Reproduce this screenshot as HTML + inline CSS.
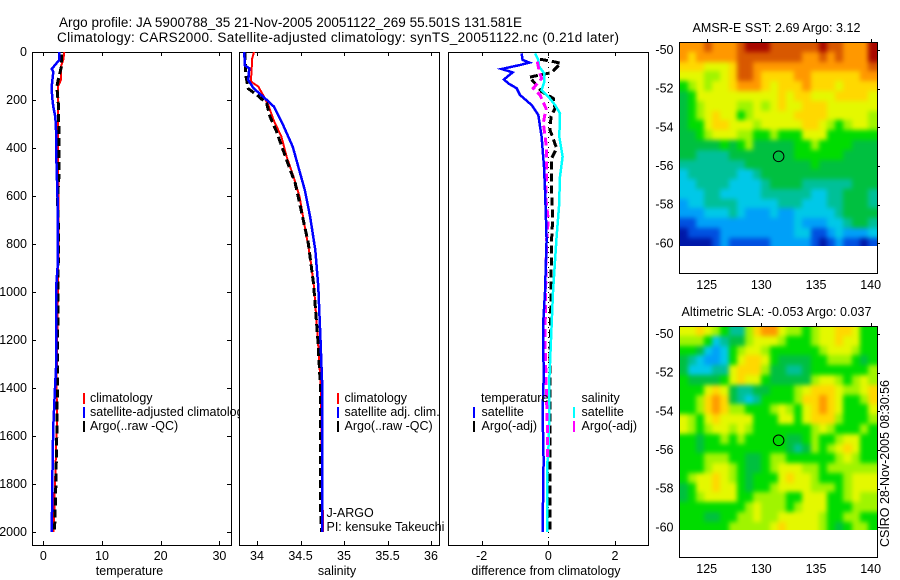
<!DOCTYPE html>
<html>
<head>
<meta charset="utf-8">
<title>Argo profile</title>
<style>
html,body{margin:0;padding:0;background:#fff;}
svg{display:block;}
text{font-family:"Liberation Sans",sans-serif;font-size:12.5px;fill:#000;}
</style>
</head>
<body>
<svg id="fig" width="900" height="580" viewBox="0 0 900 580" xmlns="http://www.w3.org/2000/svg">
<defs>
<clipPath id="legclip"><rect x="0" y="380" width="240" height="60"/></clipPath>
<clipPath id="sstclip"><rect x="679" y="42" width="199" height="204"/></clipPath>
<clipPath id="slaclip"><rect x="679" y="326" width="199" height="204"/></clipPath>
<filter id="mapsmooth" filterUnits="userSpaceOnUse" x="640" y="0" width="260" height="580" color-interpolation-filters="sRGB"><feGaussianBlur stdDeviation="2.5"/></filter>
</defs>
<rect x="0" y="0" width="900" height="580" fill="#fff"/>
<text x="59" y="27" style="font-size:13.5px" textLength="463" lengthAdjust="spacing">Argo profile: JA 5900788_35 21-Nov-2005 20051122_269 55.501S 131.581E</text>
<text x="57" y="42" style="font-size:13.5px" textLength="562" lengthAdjust="spacing">Climatology: CARS2000. Satellite-adjusted climatology: synTS_20051122.nc (0.21d later)</text>
<g id="charts"></g>
<text x="90" y="402">climatology</text>
<text x="90" y="416" clip-path="url(#legclip)">satellite-adjusted climatology</text>
<text x="90" y="430">Argo(..raw -QC)</text>
<text x="344.5" y="402">climatology</text>
<text x="344.5" y="416">satellite adj. clim.</text>
<text x="344.5" y="430">Argo(..raw -QC)</text>
<text x="326.5" y="517">J-ARGO</text>
<text x="326.5" y="531">PI: kensuke Takeuchi</text>
<text x="481" y="402">temperature</text>
<text x="481.5" y="416">satellite</text>
<text x="481.5" y="430">Argo(-adj)</text>
<text x="581.5" y="402">salinity</text>
<text x="581.5" y="416">satellite</text>
<text x="581.5" y="430">Argo(-adj)</text>
<text x="692.5" y="32" textLength="168" lengthAdjust="spacing">AMSR-E SST: 2.69 Argo: 3.12</text>
<text x="681.5" y="316" textLength="190" lengthAdjust="spacing">Altimetric SLA: -0.053 Argo: 0.037</text>
<text transform="translate(889,547) rotate(-90)" textLength="167" lengthAdjust="spacing">CSIRO 28-Nov-2005 08:30:56</text>
</svg>
<script>
// ---------- temperature profile data ----------
const tempClimDepth  = [0,33,60,117,144,400,700,978,1400,1500,1600,1800,2000];
const tempClimValues = [3.58,3.4,3.0,3.0,2.5,2.5,2.6,2.5,2.25,2.35,2.25,2.0,1.75];
const tempSatDepth   = [0,33,71,82,144,186,228,270,339,422,617,894,978,1300,1400,1560,1680,1880,2000];
const tempSatValues  = [2.73,2.73,1.43,1.7,1.43,1.5,1.7,2.05,2.2,2.2,2.43,2.43,2.2,2.2,2.0,1.7,1.6,1.5,1.45];
const tempArgoDepth  = [10,60,109,144,228,380,520,620,750,978,1400,1600,1850,2000];
const tempArgoValues = [3.1,3.1,2.6,2.3,2.6,2.65,2.65,2.4,2.6,2.5,2.4,2.3,2.1,1.9];
// ---------- salinity profile data ----------
const salClimDepth  = [0,33,60,123,144,179,221,283,353,436,519,603,728,853,978,1200,1400,2000];
const salClimValues = [33.965,33.94,33.94,33.93,34.015,34.07,34.13,34.19,34.28,34.34,34.42,34.49,34.55,34.61,34.655,34.7,34.735,34.76];
const salSatDepth   = [0,56,68,117,151,186,228,304,394,478,575,686,825,978,1200,1400,2000];
const salSatValues  = [33.854,33.86,33.91,33.90,33.96,34.07,34.195,34.30,34.41,34.475,34.55,34.61,34.67,34.705,34.73,34.75,34.75];
const salArgoDepth  = [0,95,153,179,214,269,332,450,548,672,797,964,1200,1400,1900,2000];
const salArgoValues = [33.86,33.87,33.90,34.0,34.11,34.15,34.225,34.34,34.44,34.515,34.59,34.65,34.7,34.73,34.73,34.74];
// ---------- difference panel data ----------
const diffTempSatDepth  = [6,33,44,54,71,85,114,131,151,179,221,262,353,478,575,700,783,1000,1120,1367,1500,1700,2000];
const diffTempSatValues = [-0.80,-0.77,-0.57,-0.85,-1.40,-1.07,-1.33,-1.20,-0.95,-0.85,-0.50,-0.30,-0.20,-0.13,-0.10,-0.07,-0.05,-0.10,-0.15,-0.14,-0.17,-0.14,-0.17];
const diffSalSatDepth   = [6,33,60,89,124,158,186,221,256,353,436,519,644,769,1000,1200,1367,1500,1680,1720,2000];
const diffSalSatValues  = [-0.40,-0.30,-0.28,-0.12,-0.12,-0.20,0,0.20,0.35,0.33,0.43,0.35,0.32,0.25,0.14,0.08,0.03,0.03,0,-0.04,-0.04];
const diffTempArgoDepth  = [30,40,47,86,105,137,165,193,235,269,325,401,443,575,700,783,1000,1200,1400,1700,2000];
const diffTempArgoValues = [-0.25,0.15,0.37,0.10,-0.57,-0.35,-0.20,0.15,0.20,0.08,0.05,0.25,0.10,0.10,0.13,0.10,0.08,0.06,0.05,0.05,0.05];
const diffSalArgoDepth  = [40,82,110,151,179,235,297,401,505,603,700,783,1000,1200,1400,1600,1700];
const diffSalArgoValues = [-0.33,-0.27,-0.20,-0.45,-0.25,-0.07,-0.15,-0.05,-0.05,-0.08,0,-0.05,-0.08,-0.1,-0.06,-0.02,-0.02];
// ---------- tick labels ----------
const depthTicks = [0,200,400,600,800,1000,1200,1400,1600,1800,2000];
const tempTicks = [0,10,20,30];
const salTicks = [34,34.5,35,35.5,36];
const diffTicks = [-2,0,2];
const lonTicks = [125,130,135,140];
const latTicks = [-50,-52,-54,-56,-58,-60];
const floatLon = 131.581;
const floatLat = -55.501;
// ---------- map data: colour-scale levels, north to south, west to east ----------
const sstLevels = [
[10,10,10,11,10,10,10,11,12,12,12,11,11,11,11,11,11,12,11,11,10,10,10,12],
[10,9,10,10,10,10,10,11,11,11,11,11,11,11,11,10,10,11,10,11,10,10,10,12],
[9,9,9,8,8,8,9,11,11,10,10,10,10,10,10,10,10,10,10,10,10,10,10,11],
[8,8,8,7,7,8,9,11,11,10,9,9,9,9,10,10,9,9,9,9,9,9,10,10],
[6,7,8,7,8,8,9,10,10,10,9,8,9,9,9,10,9,9,9,8,9,9,9,9],
[5,6,8,8,8,8,8,8,8,8,8,8,9,8,9,9,8,8,8,9,9,9,9,8],
[5,6,7,8,8,8,8,7,7,8,7,8,9,8,8,9,9,9,8,8,8,8,8,8],
[5,6,7,8,9,8,8,6,7,8,8,8,8,8,9,9,9,9,8,8,8,8,8,7],
[5,6,6,8,9,9,8,8,8,7,8,8,8,8,8,9,9,8,7,6,7,8,8,7],
[5,5,6,7,8,8,8,7,7,6,6,7,6,6,6,8,8,8,6,6,6,6,6,6],
[5,5,5,5,5,6,5,6,7,5,5,5,5,5,6,6,7,6,6,6,6,5,5,5],
[5,5,4,4,4,4,5,5,5,5,5,5,5,5,6,6,6,6,6,6,5,5,5,5],
[4,4,4,4,4,4,4,4,5,5,5,5,5,5,5,5,6,5,5,5,5,5,5,5],
[3,4,4,4,4,4,4,3,3,4,5,5,5,5,5,5,5,5,5,5,5,5,5,5],
[3,3,4,4,4,4,3,3,3,3,4,5,5,5,5,4,4,4,4,4,4,5,5,5],
[3,3,3,4,4,3,3,3,3,3,4,4,4,4,4,4,3,3,4,4,5,5,5,4],
[2,3,3,4,4,4,4,3,3,3,3,3,4,4,4,3,3,3,4,4,5,5,5,4],
[2,2,2,3,3,3,4,3,2,2,2,3,2,2,3,3,3,3,3,4,5,5,5,5],
[1,1,2,2,2,2,2,2,2,2,2,2,2,2,3,2,2,2,3,3,4,5,5,4],
[0,1,1,1,1,2,2,2,2,2,2,2,2,2,3,3,1,1,2,3,2,2,2,3],
[0,0,0,0,1,2,1,1,1,1,1,2,2,2,2,2,1,0,1,2,1,1,0,1]
];
const slaLevels = [
[8,8,9,8,7,6,4,4,7,9,10,10,8,7,7,6,7,8,8,9,9,8,6,6],
[7,7,7,6,3,4,5,5,7,8,8,8,7,6,6,6,7,8,8,9,8,8,6,6],
[6,6,5,3,2,3,6,7,8,8,7,6,6,6,6,6,6,7,8,8,8,7,6,6],
[5,4,3,2,2,3,6,8,9,9,8,6,5,5,5,5,6,6,7,7,7,6,5,6],
[5,3,3,3,4,4,8,9,9,9,7,5,5,4,4,5,6,6,6,6,6,6,6,7],
[6,5,5,5,5,6,8,9,8,8,6,5,5,5,5,5,7,8,8,7,6,7,8,7],
[6,6,6,8,9,8,5,4,4,5,5,6,6,6,7,8,9,9,9,8,7,7,8,9],
[6,6,7,9,10,9,5,4,3,4,6,6,6,6,7,9,9,10,9,8,6,6,7,9],
[6,6,7,9,10,9,7,7,6,6,6,7,8,7,6,8,9,10,9,8,6,6,6,8],
[8,7,6,8,9,8,8,8,8,6,6,6,8,8,6,8,9,9,9,7,6,6,6,7],
[8,7,6,7,8,8,7,8,7,6,6,6,6,6,6,6,7,8,7,6,6,6,7,6],
[6,6,5,6,6,7,6,7,6,6,6,6,6,5,5,6,7,6,6,7,8,8,6,6],
[6,6,5,6,6,6,6,6,6,6,6,6,6,5,4,5,7,6,7,8,9,8,6,6],
[6,6,6,7,7,7,6,6,5,5,6,7,7,6,6,6,6,6,6,7,8,7,6,6],
[6,6,6,7,8,8,7,6,5,5,6,7,8,8,8,7,7,6,7,7,7,7,7,7],
[6,7,8,8,9,8,7,6,5,6,6,6,8,9,8,8,7,6,6,6,7,8,8,8],
[5,6,8,8,9,8,8,6,5,6,6,7,8,8,8,8,7,7,7,6,7,8,8,8],
[5,6,7,8,8,8,8,6,6,7,7,7,7,6,6,8,8,8,6,6,7,8,7,7],
[6,6,6,6,6,6,6,6,7,8,7,7,7,6,7,8,8,8,6,6,6,7,7,7],
[6,6,6,5,5,6,6,7,7,8,7,7,8,8,8,8,8,7,6,6,7,7,6,6],
[6,6,6,6,6,6,7,7,7,7,7,8,9,8,8,8,8,7,6,5,6,7,7,6]
];
const levelColors = ['#0018a8','#0050e0','#00a0f8','#00c8e8','#00c098','#00c040','#00dc00','#a0f400','#e4f800','#ffd800','#ff9800','#d85800','#a80800'];

const NS = 'http://www.w3.org/2000/svg';
const root = document.getElementById('charts');
function el(tag, attrs, parent){
  const e = document.createElementNS(NS, tag);
  for (const k in attrs) e.setAttribute(k, attrs[k]);
  (parent || root).appendChild(e);
  return e;
}
const depthY = d => 52 + d * 0.24;
const tempX = v => 43.3 + v * 5.87;
const salX = v => 257 + (v - 34) * 87;
const diffX = v => 548.3 + v * 33.33;

function drawFrame(name, x0, y0, x1, y1){
  const r = el('rect', {x:x0+0.5, y:y0+0.5, width:x1-x0, height:y1-y0, fill:'none', stroke:'#000', 'stroke-width':1, 'shape-rendering':'crispEdges'});
  
  
}
function drawTick(x1, y1, x2, y2){
  const t = el('line', {x1:x1, y1:y1, x2:x2, y2:y2, stroke:'#000', 'stroke-width':1, 'shape-rendering':'crispEdges'});
  
  
}
function drawLabel(name, x, y, txt, anchor){
  const t = el('text', {x:x, y:y, 'text-anchor':anchor || 'middle'});
  t.textContent = txt;
  
  
}
function drawProfile(name, depths, values, xf, color, dash, width){
  const pts = depths.map((d,i) => xf(values[i]).toFixed(1) + ',' + depthY(d).toFixed(1)).join(' ');
  const p = el('polyline', {points:pts, fill:'none', stroke:color, 'stroke-width':width || 2, 'shape-rendering':'crispEdges'});
  if (dash) p.setAttribute('stroke-dasharray', dash);
  
  
}
function drawLegendMark(name, x, y, color){
  const m = el('line', {x1:x, y1:y, x2:x, y2:y+11, stroke:color, 'stroke-width':2, 'shape-rendering':'crispEdges'});
  
  
}
function drawXAxis(name, x0, x1, ticks, xf, title){
  drawFrame(name + '-frame', x0, 52, x1, 545);
  ticks.forEach(v => {
    const x = Math.round(xf(v)) + 0.5;
    drawTick(x, 52, x, 56);
    drawTick(x, 541, x, 545);
    drawLabel(name + '-tick-label', xf(v), 560, String(v));
  });
  drawLabel(name + '-axis-title', (x0 + x1) / 2 - 2, 575, title);
}

// Temperature panel
drawXAxis('temperature-panel', 32, 231, tempTicks, tempX, 'temperature');
depthTicks.forEach(d => {
  const y = Math.round(depthY(d)) + 0.5;
  drawTick(32, y, 36, y);
  drawTick(227, y, 231, y);
  drawLabel('depth-tick-label', 27, depthY(d) + 4, String(d), 'end');
});
drawProfile('temperature-climatology-line', tempClimDepth, tempClimValues, tempX, '#ff0000');
drawProfile('temperature-argo-line', tempArgoDepth, tempArgoValues, tempX, '#000', '8 4', 3);
drawProfile('temperature-satellite-line', tempSatDepth, tempSatValues, tempX, '#0000ff', null, 2.5);
drawLegendMark('temperature-legend-mark-climatology', 84, 393, '#ff0000');
drawLegendMark('temperature-legend-mark-satellite', 84, 407, '#0000ff');
drawLegendMark('temperature-legend-mark-argo', 84, 421, '#000');

// Salinity panel
drawXAxis('salinity-panel', 239, 439, salTicks, salX, 'salinity');
drawProfile('salinity-climatology-line', salClimDepth, salClimValues, salX, '#ff0000');
drawProfile('salinity-argo-line', salArgoDepth, salArgoValues, salX, '#000', '8 4', 3);
drawProfile('salinity-satellite-line', salSatDepth, salSatValues, salX, '#0000ff', null, 2.5);
drawLegendMark('salinity-legend-mark-climatology', 338, 393, '#ff0000');
drawLegendMark('salinity-legend-mark-satellite', 338, 407, '#0000ff');
drawLegendMark('salinity-legend-mark-argo', 338, 421, '#000');

// Difference panel
drawXAxis('difference-panel', 448, 648, diffTicks, diffX, 'difference from climatology');
const zeroLine = el('line', {x1:548.5, y1:52, x2:548.5, y2:545, stroke:'#000', 'stroke-width':1, 'stroke-dasharray':'1 4', 'shape-rendering':'crispEdges'});


drawProfile('difference-temperature-argo-line', diffTempArgoDepth, diffTempArgoValues, diffX, '#000', '8 4', 3);
drawProfile('difference-salinity-satellite-line', diffSalSatDepth, diffSalSatValues, diffX, '#00ffff', null, 2.5);
drawProfile('difference-salinity-argo-line', diffSalArgoDepth, diffSalArgoValues, diffX, '#ff00ff', '8 4', 3);
drawProfile('difference-temperature-satellite-line', diffTempSatDepth, diffTempSatValues, diffX, '#0000ff', null, 2.5);
drawLegendMark('difference-legend-mark-temperature-satellite', 474, 407, '#0000ff');
drawLegendMark('difference-legend-mark-temperature-argo', 474, 421, '#000');
drawLegendMark('difference-legend-mark-salinity-satellite', 574, 407, '#00ffff');
drawLegendMark('difference-legend-mark-salinity-argo', 574, 421, '#ff00ff');

// Maps
function drawMap(name, levels, top, bottom, lat50Y, clipId){
  const lonX = lon => 706.7 + (lon - 125) * 10.93;
  const latY = lat => lat50Y + (-50 - lat) * 19.33;
  const cols = levels[0].length, rows = levels.length;
  const lonStep = 18 / cols;
  const latStart = -50 + (lat50Y - top) / 19.33;
  const latStep = 10.64 / rows;
  const clipGroup = el('g', {'clip-path':'url(#' + clipId + ')'});
  
  
  const smooth = el('g', {filter:'url(#mapsmooth)'}, clipGroup);
  levels.forEach((row, j) => {
    row.forEach((lv, i) => {
      const lon = 122.5 + i * lonStep;
      const lat = latStart - j * latStep;
      // border cells bleed past the clip so smoothing keeps full colour at the edges
      const x0 = Math.round(lonX(lon)) - (i === 0 ? 14 : 0);
      const x1 = Math.round(lonX(lon + lonStep)) + (i === cols - 1 ? 14 : 0);
      const y0 = Math.round(latY(lat)) - (j === 0 ? 14 : 0);
      const y1 = Math.round(latY(lat - latStep)) + (j === rows - 1 ? 14 : 0);
      const c = el('rect', {x:x0, y:y0, width:x1-x0, height:y1-y0, fill:levelColors[lv], 'shape-rendering':'crispEdges'}, smooth);
      
      
    });
  });
  drawFrame(name + '-frame', 679, top, 877, bottom);
  lonTicks.forEach(lon => {
    const x = Math.round(lonX(lon)) + 0.5;
    drawTick(x, top - 3, x, top);
    drawLabel(name + '-lon-tick-label', lonX(lon), bottom + 16, String(lon));
  });
  latTicks.forEach(lat => {
    const y = Math.round(latY(lat)) + 0.5;
    drawTick(877, y, 880, y);
    drawLabel(name + '-lat-tick-label', 673.5, latY(lat) + 4, String(lat), 'end');
  });
  const m = el('circle', {cx:lonX(floatLon), cy:latY(floatLat), r:5.3, fill:'none', stroke:'#000', 'stroke-width':1});
  
  
}
drawMap('sst-map', sstLevels, 42, 273, 50, 'sstclip');
drawMap('sla-map', slaLevels, 326, 557, 334, 'slaclip');
</script>
</body>
</html>
